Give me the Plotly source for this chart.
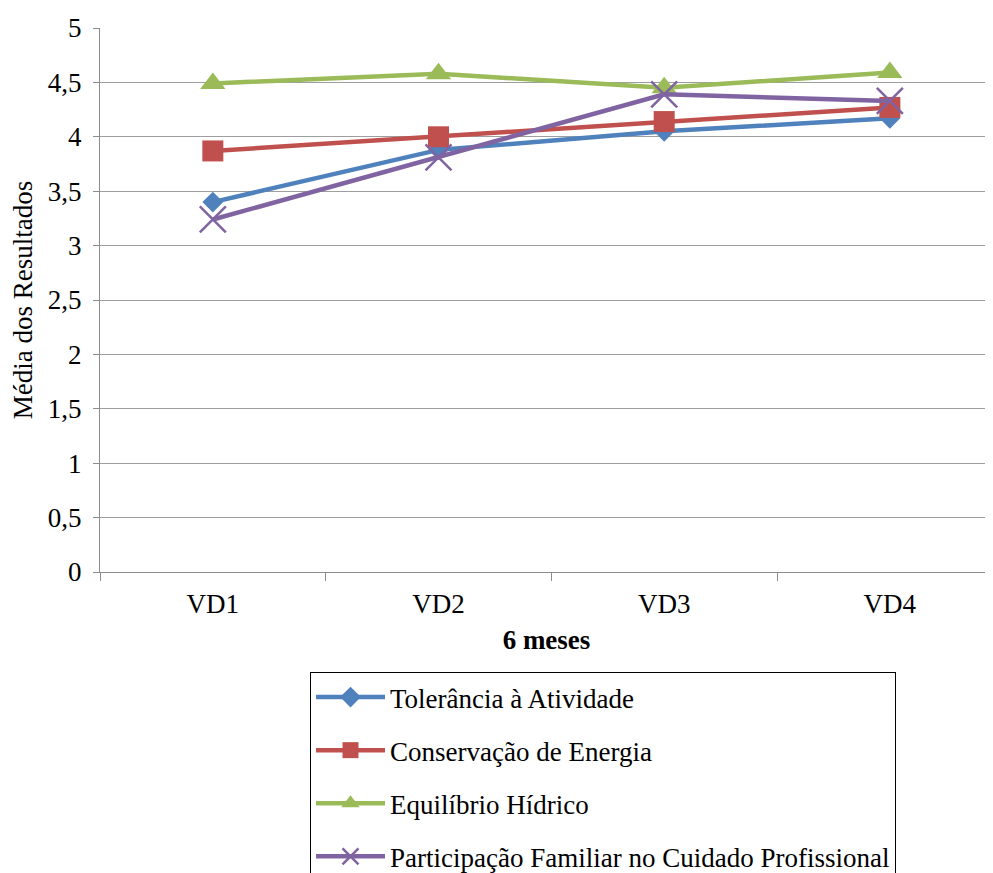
import plotly.graph_objects as go

categories = ["VD1", "VD2", "VD3", "VD4"]
tolerancia = [3.40, 3.88, 4.05, 4.17]
conservacao = [3.87, 4.00, 4.14, 4.27]
equilibrio = [4.49, 4.58, 4.45, 4.59]
participacao = [3.24, 3.81, 4.39, 4.33]

series = [
    ("Tolerância à Atividade", tolerancia, "#4F81BD", "diamond", 16),
    ("Conservação de Energia", conservacao, "#C0504D", "square", 21),
    ("Equilíbrio Hídrico", equilibrio, "#9BBB59", "triangle-up", 22),
    ("Participação Familiar no Cuidado Profissional", participacao, "#8064A2", "x-thin", 26),
]

FONT = "Liberation Serif"
FS = 27

fig = go.Figure()
for i, (name, vals, color, sym, size) in enumerate(series):
    marker = dict(symbol=sym, size=size, color=color)
    if sym == "x-thin":
        marker["line"] = dict(color=color, width=2.5)
    fig.add_trace(go.Scatter(
        x=categories, y=vals, name=name, mode="lines+markers",
        line=dict(color=color, width=4.5), marker=marker,
        legendgroup=f"g{i}",
    ))

fig.update_layout(
    width=985, height=865,
    paper_bgcolor="white", plot_bgcolor="white",
    margin=dict(l=92, r=0, t=20, b=301, autoexpand=False),
    font=dict(family=FONT, size=FS, color="black"),
    separators=",.",
    showlegend=True,
    legend=dict(
        x=(310 - 100) / 893, y=(572 - 672) / 544,
        xanchor="left", yanchor="top",
        bordercolor="black", borderwidth=1,
        font=dict(family=FONT, size=FS, color="black"),
        tracegroupgap=15, itemwidth=69,
        bgcolor="white",
    ),
)

fig.update_xaxes(
    type="category", range=[-0.5, 3.457],
    showgrid=False, showline=True, linecolor="#8c8c8c", linewidth=1,
    ticks="outside", tickson="boundaries", ticklen=8, tickcolor="#8c8c8c",
    ticklabelstandoff=8,
    title=dict(text="<b>6 meses</b>", font=dict(family=FONT, size=FS), standoff=11),
)
fig.update_yaxes(
    range=[0, 5], dtick=0.5, tick0=0,
    showgrid=True, gridcolor="#9e9e9e", gridwidth=1,
    showline=True, linecolor="#8c8c8c", linewidth=1,
    ticks="outside", ticklen=6, tickcolor="#8c8c8c",
    ticklabelstandoff=6,
    zeroline=False,
    title=dict(text="Média dos Resultados", font=dict(family=FONT, size=FS), standoff=10),
)

fig.write_html("out.html")
